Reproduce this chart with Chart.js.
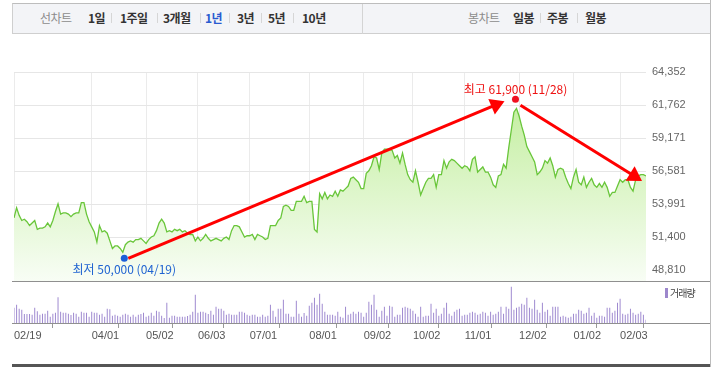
<!DOCTYPE html>
<html><head><meta charset="utf-8">
<script src="https://cdn.jsdelivr.net/npm/chart.js@4"></script>
<style>
html,body{margin:0;padding:0;background:#fff;}
body{width:713px;height:367px;position:relative;overflow:hidden;font-family:'Noto Sans CJK KR','Noto Sans',sans-serif;}
#tabbar{position:absolute;left:12px;top:3px;width:698px;height:31px;background:#f3f4f7;border-top:1px solid #bdbdbd;border-bottom:1px solid #cfcfcf;border-left:1px solid #cfcfcf;box-sizing:border-box;}
#divider{position:absolute;left:362px;top:4px;width:1px;height:30px;background:#d4d4d4;}
.t{position:absolute;top:10px;font-size:12px;line-height:16px;font-weight:bold;color:#333;white-space:nowrap;letter-spacing:-0.5px;}
.g{font-weight:normal;color:#8c8c8c;}
.on{color:#2a5bd0;}
.s{position:absolute;top:13px;width:1px;height:10px;background:#d6d6d6;}
#rborder{position:absolute;left:710px;top:0;width:1px;height:367px;background:#bcbcbc;}
canvas{position:absolute;left:0;top:0;}
#leg{position:absolute;left:665px;top:286px;font-size:10px;line-height:13px;color:#444;letter-spacing:-1px;white-space:nowrap;}
#leg i{display:inline-block;width:3px;height:10px;background:#9d87cc;margin-right:2px;vertical-align:-1px;}
</style></head>
<body>
<div id="tabbar"></div>
<div id="divider"></div>
<span class="t g" style="left:40px">선차트</span>
<span class="t" style="left:88px">1일</span><span class="s" style="left:111px"></span>
<span class="t" style="left:120px">1주일</span><span class="s" style="left:157px"></span>
<span class="t" style="left:163px">3개월</span><span class="s" style="left:200px"></span>
<span class="t on" style="left:205px">1년</span><span class="s" style="left:229px"></span>
<span class="t" style="left:237px">3년</span><span class="s" style="left:261px"></span>
<span class="t" style="left:268px">5년</span><span class="s" style="left:293px"></span>
<span class="t" style="left:302px">10년</span>
<span class="t g" style="left:468px">봉차트</span>
<span class="t" style="left:513px">일봉</span><span class="s" style="left:540px"></span>
<span class="t" style="left:547px">주봉</span><span class="s" style="left:577px"></span>
<span class="t" style="left:585px">월봉</span>
<div id="rborder"></div>
<canvas id="price" width="713" height="367"></canvas>
<canvas id="vol" width="713" height="367"></canvas>
<div id="leg"><i></i>거래량</div>
<script>
// ---- data ----
const priceValues = [
52900,53700,53100,52700,52800,52600,52300,52500,52700,52000,
52100,52100,52200,52500,52200,52700,53400,54000,53200,53300,
53300,53200,53000,53200,53300,53300,54100,54100,53200,52600,
52200,51800,51000,52300,51800,51900,51700,51100,50500,50700,
50700,50500,50200,50800,51000,51100,51000,51200,51200,51300,
51100,50900,51200,51400,51500,51900,52500,52800,52500,51800,
51900,51800,52000,51900,52000,51800,51900,51700,51600,51600,
51100,51400,51100,51300,51600,51300,51100,51200,51300,51200,
51100,51300,51400,51200,51900,52300,52300,52200,51800,51400,
51500,51500,51600,51200,51600,51500,51400,51200,51300,52300,
52300,52300,52700,52900,53800,53900,53800,53500,53500,54200,
54200,54200,54600,54100,54200,54200,52000,51800,54800,54400,
54900,54400,54700,54600,55000,54600,55100,55000,55200,55400,
56000,56100,55900,55700,55200,55200,56400,56600,57000,57700,
57600,56700,58000,58300,58300,58300,58200,57600,57800,57200,
58000,57100,56300,55900,55700,56600,55700,54700,55200,55700,
56000,56000,56300,55300,56300,56300,57400,56800,57300,57500,
57400,57200,57000,56800,57000,56900,56600,57500,57700,56500,
56700,56900,56500,56500,56100,55500,55300,56200,56300,57100,
56800,58400,59800,61200,61500,60900,60100,59400,58500,58100,
57700,57300,56300,56500,56800,57400,57200,57600,57000,56100,
56700,56800,56700,56100,55600,55200,56100,56700,55700,55500,
56100,55300,55700,56000,55500,55300,55600,55300,55700,55300,
54600,54900,54900,55400,55900,55700,55900,55900,55300,55000,
55900,56200,56300,56300,56200
];
const volumeValues = [
6100,7300,5700,5300,3600,3600,3600,3300,6100,4700,
3300,3700,3700,4900,2500,3700,4100,10300,4500,4100,
4100,3700,3200,4100,3700,2500,4500,4100,4100,2500,
4500,4100,4100,3300,3700,2500,5700,5500,2900,3300,
2900,2500,3300,3700,3300,2500,3300,2500,3300,3600,
4100,2500,2900,4100,2900,4900,4500,2900,2000,8100,
2100,2900,2900,2500,2500,2500,2500,2800,3300,4500,
11300,4100,4500,4500,4100,3600,4900,3300,6500,5700,
5700,4900,3300,3700,3300,3300,3300,4500,4500,4100,
3300,2900,3300,3300,2500,2500,3300,2500,2900,7300,
4900,2500,5700,5700,9300,3700,3700,2500,2500,8900,
3700,2500,4000,2900,6900,8100,10100,7300,11700,7700,
4500,3300,3300,3300,2900,4500,2500,2100,6500,3300,
3700,4500,3700,4500,4100,2500,4100,8500,7300,11300,
5300,2500,4900,6500,2900,6900,6500,2500,3300,3300,
6100,6500,6100,5700,4900,3700,2500,6500,2500,2900,
2900,7700,4100,5700,2900,3700,6100,8100,3700,2900,
4500,5300,5700,2900,3300,3300,4100,4500,4100,3300,
3700,4500,4100,2900,4500,3300,3700,4500,6500,3700,
6500,5700,14500,5300,6100,6500,7700,7300,10100,6100,
5700,9300,5300,4100,8100,4500,5300,2900,6500,6500,
6500,2500,2900,2500,2100,2500,3700,3700,5300,4900,
3700,4100,6100,2900,4100,2100,2900,2900,2500,6100,
6100,4100,4900,8100,9700,3700,3300,3700,5700,4100,
3300,3700,4500,3300,1300
];
const tickIndex  = [0,30,51,71,91,114,135,154,174,195,216,234];
const tickLabels = ['02/19','04/01','05/02','06/03','07/01','08/01','09/02','10/02','11/01','12/02','01/02','02/03'];
const priceTicks = [48810,51400,53991,56581,59171,61762,64352];
const highLabel = '최고 61,900 (11/28)';
const lowLabel  = '최저 50,000 (04/19)';
const volumeLegend = '거래량';

// ---- charts ----
const lastIdx = priceValues.length - 1;
const labelFor = v => { const k = tickIndex.indexOf(v); return k >= 0 ? tickLabels[k] : ''; };

function arrow(ctx, x1, y1, x2, y2, headLen, halfW) {
  const dx = x2 - x1, dy = y2 - y1, L = Math.hypot(dx, dy);
  const ux = dx / L, uy = dy / L, px = -uy, py = ux;
  const bx = x2 - ux * headLen, by = y2 - uy * headLen;
  ctx.beginPath();
  ctx.moveTo(x1, y1); ctx.lineTo(bx + ux * 2, by + uy * 2);
  ctx.stroke();
  ctx.beginPath();
  ctx.moveTo(x2, y2);
  ctx.lineTo(bx + px * halfW, by + py * halfW);
  ctx.lineTo(bx - px * halfW, by - py * halfW);
  ctx.closePath(); ctx.fill();
}

const annotate = {
  id: 'annotate',
  afterDatasetsDraw(chart) {
    const ctx = chart.ctx, meta = chart.getDatasetMeta(0);
    const iMax = priceValues.indexOf(Math.max(...priceValues));
    const iMin = priceValues.indexOf(Math.min(...priceValues));
    const pMax = meta.data[iMax], pMin = meta.data[iMin], pLast = meta.data[lastIdx];
    const hi = {x: pMax.x - 1, y: pMax.y - 9};
    const lo = {x: pMin.x + 1.5, y: pMin.y + 6};
    ctx.save();
    ctx.strokeStyle = '#ff0000'; ctx.fillStyle = '#ff0000'; ctx.lineWidth = 3; ctx.lineCap = 'butt';
    arrow(ctx, lo.x + 4, lo.y, hi.x - 11, hi.y + 2, 14, 8.5);
    arrow(ctx, hi.x + 5, hi.y + 6, pLast.x - 4, pLast.y + 5, 14, 8.5);
    ctx.beginPath(); ctx.arc(hi.x, hi.y, 3.5, 0, Math.PI * 2); ctx.fillStyle = '#f01020'; ctx.fill();
    ctx.beginPath(); ctx.arc(lo.x, lo.y, 3.5, 0, Math.PI * 2); ctx.fillStyle = '#1b5fd8'; ctx.fill();
    ctx.font = "12px 'Noto Sans CJK KR'";
    ctx.textAlign = 'center'; ctx.textBaseline = 'middle';
    ctx.fillStyle = '#ee1111'; ctx.fillText(highLabel, hi.x, hi.y - 10);
    ctx.fillStyle = '#1f63d1'; ctx.fillText(lowLabel, lo.x, lo.y + 11);
    ctx.restore();
  }
};

new Chart(document.getElementById('price'), {
  type: 'line',
  data: {
    datasets: [{
      data: priceValues.map((v, i) => ({x: i, y: v})),
      borderColor: '#69c63a',
      borderWidth: 1.3,
      pointRadius: 0,
      tension: 0,
      fill: 'start',
      backgroundColor: (c) => {
        const a = c.chart.chartArea;
        if (!a) return '#dff5cf';
        const g = c.chart.ctx.createLinearGradient(0, a.top, 0, a.bottom);
        g.addColorStop(0, '#bbec92');
        g.addColorStop(1, '#f8fdf5');
        return g;
      }
    }]
  },
  options: {
    responsive: false, animation: false, devicePixelRatio: 1,
    layout: {padding: {left: 14, top: 72, right: 0, bottom: 86}},
    plugins: {legend: {display: false}, tooltip: {enabled: false}},
    scales: {
      x: {
        type: 'linear', min: 0, max: lastIdx, bounds: 'data',
        afterBuildTicks: s => { s.ticks = tickIndex.map(v => ({value: v})); },
        afterFit: s => { s.height = 0; },
        ticks: {display: false},
        grid: {color: '#ebebeb', drawTicks: false},
        border: {display: false}
      },
      y: {
        position: 'right', min: 47950, max: 64352,
        afterBuildTicks: s => { s.ticks = priceTicks.map(v => ({value: v})); },
        afterFit: s => { s.width = 67; },
        ticks: {
          padding: 6, color: '#666',
          font: {family: "'Liberation Sans', Arial, sans-serif", size: 11},
          callback: v => Number(v).toLocaleString('en-US')
        },
        grid: {color: '#e6e6e6', drawTicks: false},
        border: {display: false}
      }
    }
  },
  plugins: [annotate]
});

const frame = {
  id: 'frame',
  afterDraw(chart) {
    const ctx = chart.ctx, a = chart.chartArea;
    ctx.save();
    ctx.strokeStyle = '#8f8f8f'; ctx.lineWidth = 1;
    ctx.beginPath();
    ctx.moveTo(12, Math.round(a.top) + 0.5); ctx.lineTo(710, Math.round(a.top) + 0.5);
    ctx.moveTo(12, Math.round(a.bottom) + 0.5); ctx.lineTo(710, Math.round(a.bottom) + 0.5);
    ctx.stroke();
    ctx.fillStyle = '#555';
    ctx.fillRect(12, 364, 698, 3);
    ctx.restore();
  }
};

new Chart(document.getElementById('vol'), {
  type: 'bar',
  data: {
    datasets: [{
      data: volumeValues.map((v, i) => ({x: i, y: v})),
      backgroundColor: '#9f8ad0',
      barThickness: 1,
      inflateAmount: 0
    }]
  },
  options: {
    responsive: false, animation: false, devicePixelRatio: 1,
    layout: {padding: {left: 14, top: 281, right: 67, bottom: 0}},
    plugins: {legend: {display: false}, tooltip: {enabled: false}},
    scales: {
      x: {
        type: 'linear', min: 0, max: lastIdx, bounds: 'data', offset: false,
        afterBuildTicks: s => { s.ticks = tickIndex.map(v => ({value: v})); },
        afterFit: s => { s.height = 44; },
        ticks: {
          align: 'start', padding: 1, color: '#555', maxRotation: 0, autoSkip: false,
          font: {family: "'Liberation Sans', Arial, sans-serif", size: 11},
          callback: v => labelFor(v)
        },
        grid: {drawOnChartArea: false, drawTicks: true, tickLength: 5, color: '#999', tickColor: '#999'},
        border: {display: false}
      },
      y: {display: false, min: 0, max: 16800}
    }
  },
  plugins: [frame]
});
document.getElementById('leg').lastChild.textContent = volumeLegend;
</script>
</body></html>
